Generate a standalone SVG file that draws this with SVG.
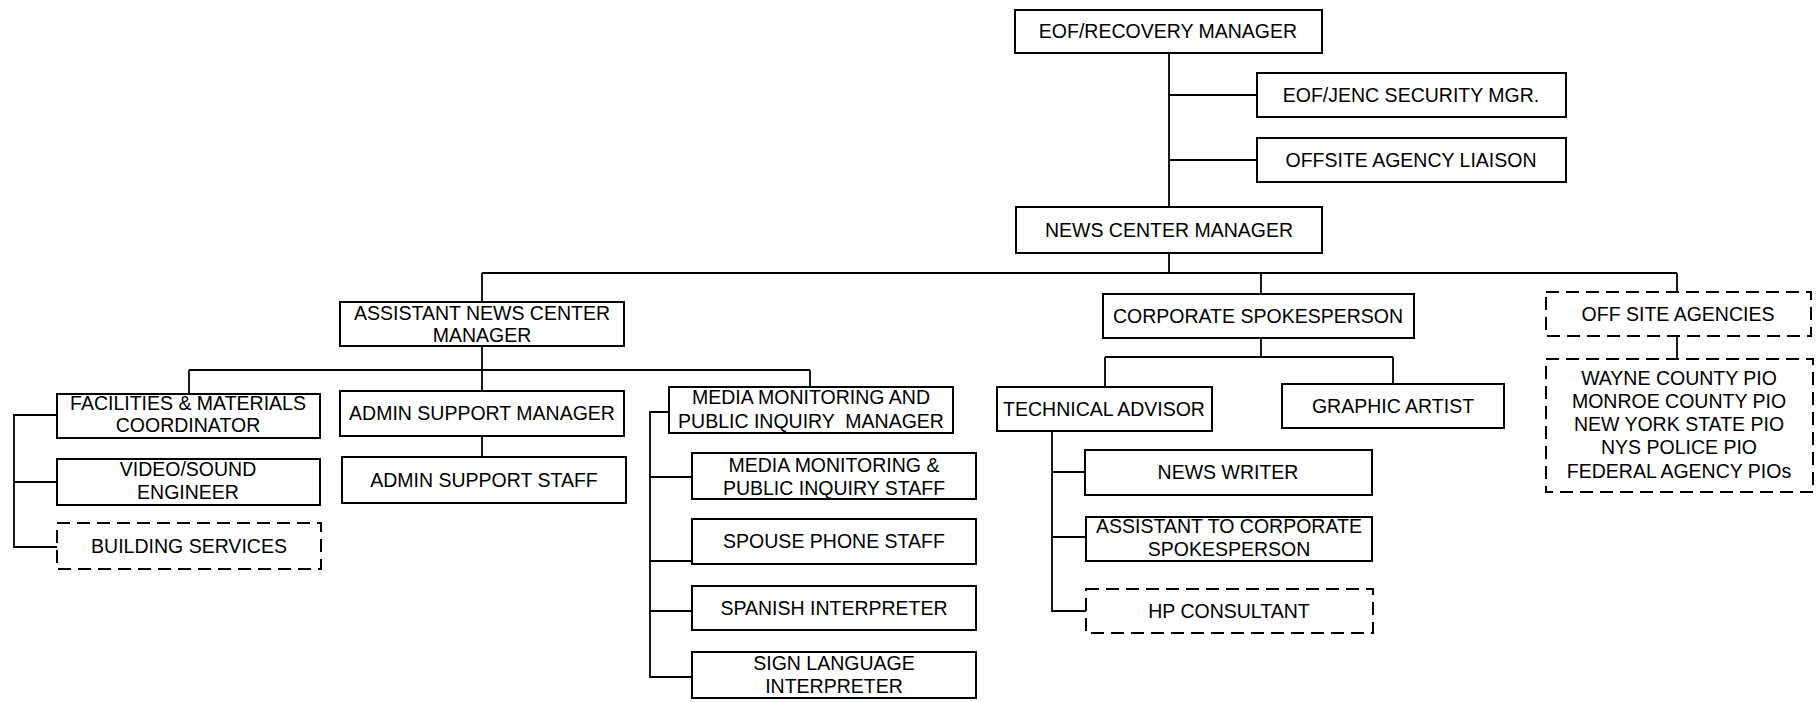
<svg xmlns="http://www.w3.org/2000/svg" width="1817" height="702" viewBox="0 0 1817 702">
<style>
.b{fill:#fff;stroke:#000;stroke-width:2}
.d{fill:#fff;stroke:#000;stroke-width:2;stroke-dasharray:13 7}
.t{font-family:"Liberation Sans",Arial,Helvetica,sans-serif;font-size:19.5px;fill:#000;text-anchor:middle}
.c{fill:none;stroke:#000;stroke-width:1.8}
</style>
<rect width="1817" height="702" fill="#fff"/>
<g id="connectors" class="c">
<path d="M1169 53V207M1169 95H1257M1169 160H1257M1169 253V273M482 273H1677M482 273V302M1261 273V294M1677 273V292"/>
<path d="M482 346V370M189 370H810M189 370V394M482 370V391M810 370V387M482 436V457"/>
<path d="M57 415H14V547H57M14 482H57"/>
<path d="M669 412H650V677H692M650 477H692M650 561H692M650 611H692"/>
<path d="M1261 338V357M1105 357H1393M1105 357V387M1393 357V384"/>
<path d="M1052 431V611H1086M1052 472H1085M1052 537H1086"/>
<path d="M1677 336V359"/>
</g>
<g id="eof-recovery-manager"><rect class="b" x="1015" y="10" width="307" height="43"/><text class="t" x="1168" y="38">EOF/RECOVERY MANAGER</text></g>
<g id="eof-jenc-security"><rect class="b" x="1257" y="73" width="309" height="44"/><text class="t" x="1411" y="102">EOF/JENC SECURITY MGR.</text></g>
<g id="offsite-agency-liaison"><rect class="b" x="1257" y="138" width="309" height="44"/><text class="t" x="1411" y="167">OFFSITE AGENCY LIAISON</text></g>
<g id="news-center-manager"><rect class="b" x="1016" y="207" width="306" height="46"/><text class="t" x="1169" y="237">NEWS CENTER MANAGER</text></g>
<g id="assistant-news-center-manager"><rect class="b" x="340" y="302" width="284" height="44"/><text class="t" x="482" y="320">ASSISTANT NEWS CENTER</text><text class="t" x="482" y="342">MANAGER</text></g>
<g id="corporate-spokesperson"><rect class="b" x="1103" y="294" width="311" height="44"/><text class="t" x="1258" y="323">CORPORATE SPOKESPERSON</text></g>
<g id="off-site-agencies"><rect class="d" x="1546" y="292" width="265" height="44"/><text class="t" x="1678" y="321">OFF SITE AGENCIES</text></g>
<g id="facilities"><rect class="b" x="57" y="394" width="263" height="44"/><text class="t" x="188" y="410">FACILITIES &amp; MATERIALS</text><text class="t" x="188" y="432">COORDINATOR</text></g>
<g id="admin-support-manager"><rect class="b" x="340" y="391" width="284" height="45"/><text class="t" x="482" y="420">ADMIN SUPPORT MANAGER</text></g>
<g id="media-monitoring-manager"><rect class="b" x="669" y="387" width="284" height="46"/><text class="t" x="811" y="404">MEDIA MONITORING AND</text><text class="t" x="811" y="428" xml:space="preserve">PUBLIC INQUIRY  MANAGER</text></g>
<g id="admin-support-staff"><rect class="b" x="342" y="457" width="284" height="46"/><text class="t" x="484" y="487">ADMIN SUPPORT STAFF</text></g>
<g id="video-sound-engineer"><rect class="b" x="57" y="459" width="263" height="46"/><text class="t" x="188" y="476">VIDEO/SOUND</text><text class="t" x="188" y="499">ENGINEER</text></g>
<g id="building-services"><rect class="d" x="57" y="523" width="264" height="46"/><text class="t" x="189" y="553">BUILDING SERVICES</text></g>
<g id="media-monitoring-staff"><rect class="b" x="692" y="453" width="284" height="46"/><text class="t" x="834" y="472">MEDIA MONITORING &amp;</text><text class="t" x="834" y="495">PUBLIC INQUIRY STAFF</text></g>
<g id="spouse-phone-staff"><rect class="b" x="692" y="519" width="284" height="45"/><text class="t" x="834" y="548">SPOUSE PHONE STAFF</text></g>
<g id="spanish-interpreter"><rect class="b" x="692" y="586" width="284" height="44"/><text class="t" x="834" y="615">SPANISH INTERPRETER</text></g>
<g id="sign-language-interpreter"><rect class="b" x="692" y="652" width="284" height="46"/><text class="t" x="834" y="670">SIGN LANGUAGE</text><text class="t" x="834" y="693">INTERPRETER</text></g>
<g id="technical-advisor"><rect class="b" x="997" y="387" width="215" height="44"/><text class="t" x="1104" y="416">TECHNICAL ADVISOR</text></g>
<g id="graphic-artist"><rect class="b" x="1282" y="384" width="222" height="44"/><text class="t" x="1393" y="413">GRAPHIC ARTIST</text></g>
<g id="news-writer"><rect class="b" x="1085" y="450" width="287" height="45"/><text class="t" x="1228" y="479">NEWS WRITER</text></g>
<g id="assistant-to-corporate-spokesperson"><rect class="b" x="1086" y="517" width="286" height="44"/><text class="t" x="1229" y="533">ASSISTANT TO CORPORATE</text><text class="t" x="1229" y="556">SPOKESPERSON</text></g>
<g id="hp-consultant"><rect class="d" x="1086" y="589" width="287" height="44"/><text class="t" x="1229" y="618">HP CONSULTANT</text></g>
<g id="pio-list"><rect class="d" x="1546" y="359" width="267" height="133"/>
<text class="t" x="1679" y="385">WAYNE COUNTY PIO</text>
<text class="t" x="1679" y="408">MONROE COUNTY PIO</text>
<text class="t" x="1679" y="431">NEW YORK STATE PIO</text>
<text class="t" x="1679" y="454">NYS POLICE PIO</text>
<text class="t" x="1679" y="478">FEDERAL AGENCY PIOs</text></g>
</svg>
